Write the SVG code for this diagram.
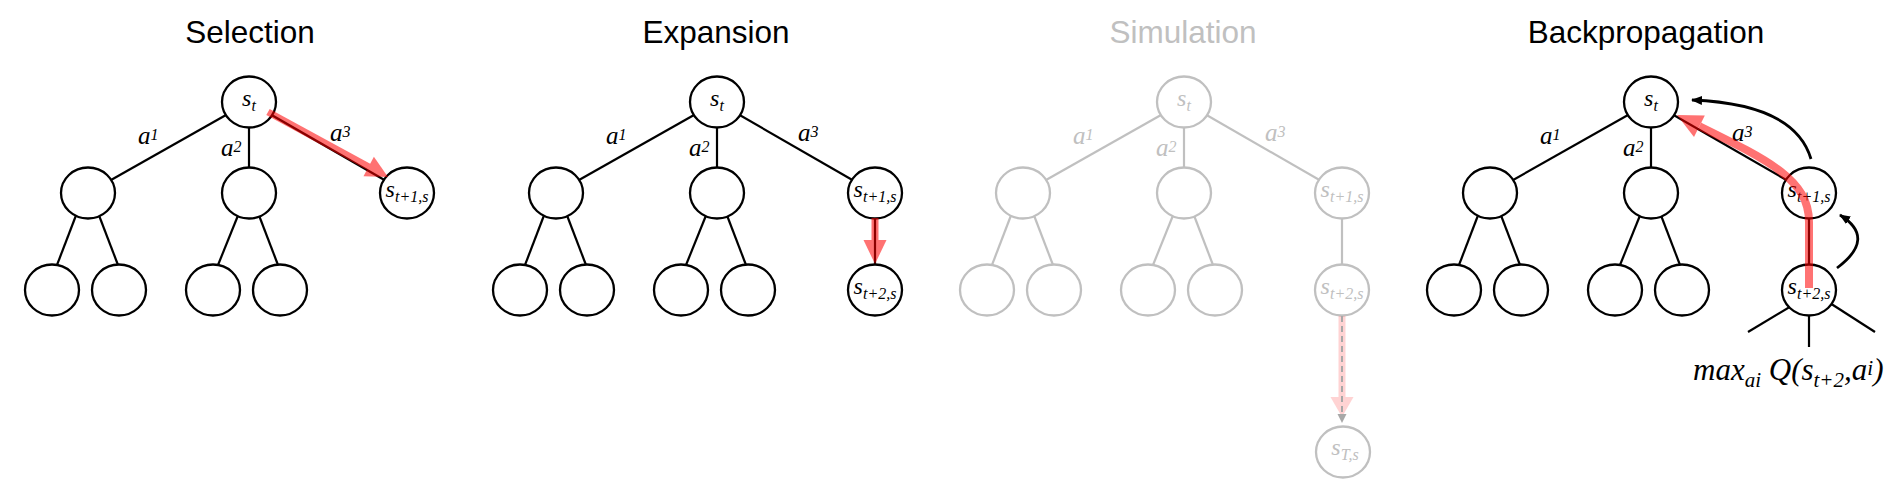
<svg xmlns="http://www.w3.org/2000/svg" width="1890" height="503" viewBox="0 0 1890 503">
<style>
  .title{font-family:"Liberation Sans",Arial,sans-serif;font-size:31.5px;text-anchor:middle;fill:#000}
  .node ellipse{fill:#fff;stroke:#000;stroke-width:2.3}
  .edges line{stroke:#000;stroke-width:2.2;fill:none}
  .it{font-family:"Liberation Serif","Times New Roman",serif;font-style:italic;fill:#000}
  .lbl{font-size:25px}
  .nt{font-size:24px;text-anchor:middle}
  .sub{font-size:16px}
  .sup{font-size:16px}
  .sim .title{fill:#c0c0c0}
  .sim .node ellipse{stroke:#c0c0c0}
  .sim .edges line{stroke:#c0c0c0}
  .sim .it{fill:#c0c0c0}
  .red{fill:#ff0000;stroke:#ff0000;opacity:0.55}
  .arc{fill:none;stroke:#000;stroke-width:2.8}
</style>
<defs>
  <marker id="ah" markerUnits="userSpaceOnUse" markerWidth="12" markerHeight="10" refX="10" refY="4.5" orient="auto">
    <path d="M0,0 L11,4.5 L0,9 z" fill="#000"/>
  </marker>
</defs>

<!-- ============ SELECTION ============ -->
<g id="selection">
  <text class="title" x="250" y="43">Selection</text>
  <g transform="translate(249,0)">
    <g id="sel-edges" class="edges">
      <line x1="0" y1="102" x2="-161" y2="193"/>
      <line x1="0" y1="102" x2="0" y2="193"/>
      <line x1="0" y1="102" x2="158" y2="193"/>
      <line x1="-171.7" y1="212" x2="-194.3" y2="271"/>
      <line x1="-151.3" y1="212" x2="-128.7" y2="271"/>
      <line x1="-9.6" y1="212" x2="-33.4" y2="271"/>
      <line x1="8.7" y1="212" x2="31.3" y2="271"/>
    </g>
    <text class="it lbl" x="-111" y="144">a<tspan class="sup" dy="-4">1</tspan></text>
    <text class="it lbl" x="-28" y="156">a<tspan class="sup" dy="-4">2</tspan></text>
    <text class="it lbl" x="81" y="141">a<tspan class="sup" dy="-4">3</tspan></text>
    <g id="sel-root" class="node"><ellipse cx="0" cy="102" rx="27" ry="25.5"/><text class="it nt" x="0" y="105.5">s<tspan class="sub" dy="5">t</tspan></text></g>
    <g id="sel-c1" class="node"><ellipse cx="-161" cy="193" rx="27" ry="25.5"/></g>
    <g id="sel-c2" class="node"><ellipse cx="0" cy="193" rx="27" ry="25.5"/></g>
    <g id="sel-c3" class="node"><ellipse cx="158" cy="193" rx="27" ry="25.5"/><text class="it nt" x="158" y="197">s<tspan class="sub" dy="5">t+1,s</tspan></text></g>
    <g id="sel-l1" class="node"><ellipse cx="-197" cy="290" rx="27" ry="25.5"/></g>
    <g id="sel-l2" class="node"><ellipse cx="-130" cy="290" rx="27" ry="25.5"/></g>
    <g id="sel-l3" class="node"><ellipse cx="-36" cy="290" rx="27" ry="25.5"/></g>
    <g id="sel-l4" class="node"><ellipse cx="31" cy="290" rx="27" ry="25.5"/></g>
    <g id="sel-arrow" class="red">
      <line x1="19" y1="112" x2="120" y2="167" stroke-width="7"/>
      <polygon points="139,177 114.5,176.2 124.9,156.8" stroke="none"/>
    </g>
  </g>
</g>

<!-- ============ EXPANSION ============ -->
<g id="expansion">
  <text class="title" x="716" y="43">Expansion</text>
  <g transform="translate(717,0)">
    <g id="exp-edges" class="edges">
      <line x1="0" y1="102" x2="-161" y2="193"/>
      <line x1="0" y1="102" x2="0" y2="193"/>
      <line x1="0" y1="102" x2="158" y2="193"/>
      <line x1="-171.7" y1="212" x2="-194.3" y2="271"/>
      <line x1="-151.3" y1="212" x2="-128.7" y2="271"/>
      <line x1="-9.6" y1="212" x2="-33.4" y2="271"/>
      <line x1="8.7" y1="212" x2="31.3" y2="271"/>
      <line x1="158" y1="193" x2="158" y2="290"/>
    </g>
    <text class="it lbl" x="-111" y="144">a<tspan class="sup" dy="-4">1</tspan></text>
    <text class="it lbl" x="-28" y="156">a<tspan class="sup" dy="-4">2</tspan></text>
    <text class="it lbl" x="81" y="141">a<tspan class="sup" dy="-4">3</tspan></text>
    <g id="exp-root" class="node"><ellipse cx="0" cy="102" rx="27" ry="25.5"/><text class="it nt" x="0" y="105.5">s<tspan class="sub" dy="5">t</tspan></text></g>
    <g id="exp-c1" class="node"><ellipse cx="-161" cy="193" rx="27" ry="25.5"/></g>
    <g id="exp-c2" class="node"><ellipse cx="0" cy="193" rx="27" ry="25.5"/></g>
    <g id="exp-c3" class="node"><ellipse cx="158" cy="193" rx="27" ry="25.5"/><text class="it nt" x="158" y="197">s<tspan class="sub" dy="5">t+1,s</tspan></text></g>
    <g id="exp-l1" class="node"><ellipse cx="-197" cy="290" rx="27" ry="25.5"/></g>
    <g id="exp-l2" class="node"><ellipse cx="-130" cy="290" rx="27" ry="25.5"/></g>
    <g id="exp-l3" class="node"><ellipse cx="-36" cy="290" rx="27" ry="25.5"/></g>
    <g id="exp-l4" class="node"><ellipse cx="31" cy="290" rx="27" ry="25.5"/></g>
    <g id="exp-c3c" class="node"><ellipse cx="158" cy="290" rx="27" ry="25.5"/><text class="it nt" x="158" y="294">s<tspan class="sub" dy="5">t+2,s</tspan></text></g>
    <g id="exp-arrow" class="red">
      <path d="M158,218 L158,241" stroke-width="7"/>
      <polygon points="146.5,240 169.5,240 158,264" stroke="none"/>
    </g>
  </g>
</g>

<!-- ============ SIMULATION ============ -->
<g id="simulation" class="sim">
  <text class="title" x="1183" y="43">Simulation</text>
  <g transform="translate(1184,0)">
    <g id="sim-edges" class="edges">
      <line x1="0" y1="102" x2="-161" y2="193"/>
      <line x1="0" y1="102" x2="0" y2="193"/>
      <line x1="0" y1="102" x2="158" y2="193"/>
      <line x1="-171.7" y1="212" x2="-194.3" y2="271"/>
      <line x1="-151.3" y1="212" x2="-128.7" y2="271"/>
      <line x1="-9.6" y1="212" x2="-33.4" y2="271"/>
      <line x1="8.7" y1="212" x2="31.3" y2="271"/>
      <line x1="158" y1="193" x2="158" y2="290"/>
    </g>
    <text class="it lbl" x="-111" y="144">a<tspan class="sup" dy="-4">1</tspan></text>
    <text class="it lbl" x="-28" y="156">a<tspan class="sup" dy="-4">2</tspan></text>
    <text class="it lbl" x="81" y="141">a<tspan class="sup" dy="-4">3</tspan></text>
    <g id="sim-root" class="node"><ellipse cx="0" cy="102" rx="27" ry="25.5"/><text class="it nt" x="0" y="105.5">s<tspan class="sub" dy="5">t</tspan></text></g>
    <g id="sim-c1" class="node"><ellipse cx="-161" cy="193" rx="27" ry="25.5"/></g>
    <g id="sim-c2" class="node"><ellipse cx="0" cy="193" rx="27" ry="25.5"/></g>
    <g id="sim-c3" class="node"><ellipse cx="158" cy="193" rx="27" ry="25.5"/><text class="it nt" x="158" y="197">s<tspan class="sub" dy="5">t+1,s</tspan></text></g>
    <g id="sim-l1" class="node"><ellipse cx="-197" cy="290" rx="27" ry="25.5"/></g>
    <g id="sim-l2" class="node"><ellipse cx="-130" cy="290" rx="27" ry="25.5"/></g>
    <g id="sim-l3" class="node"><ellipse cx="-36" cy="290" rx="27" ry="25.5"/></g>
    <g id="sim-l4" class="node"><ellipse cx="31" cy="290" rx="27" ry="25.5"/></g>
    <g id="sim-c3c" class="node"><ellipse cx="158" cy="290" rx="27" ry="25.5"/><text class="it nt" x="158" y="294">s<tspan class="sub" dy="5">t+2,s</tspan></text></g>
    <g id="sim-sT" class="node"><ellipse cx="159" cy="452" rx="27" ry="25.5"/><text class="it nt" x="161" y="455">s<tspan class="sub" dy="5">T,s</tspan></text></g>
    <g id="sim-arrow">
      <g fill="#ff0000" stroke="#ff0000" opacity="0.17">
        <path d="M158,316 L158,398" stroke-width="7"/>
        <polygon points="146.5,397 169.5,397 158,417" stroke="none"/>
      </g>
      <path d="M158,316 L158,415" stroke="#a8a8a8" stroke-width="2" stroke-dasharray="6 4" fill="none"/>
      <polygon points="153.5,414 162.5,414 158,423" fill="#a8a8a8"/>
    </g>
  </g>
</g>

<!-- ============ BACKPROPAGATION ============ -->
<g id="backpropagation">
  <text class="title" x="1646" y="43">Backpropagation</text>
  <g transform="translate(1651,0)">
    <g id="bp-edges" class="edges">
      <line x1="0" y1="102" x2="-161" y2="193"/>
      <line x1="0" y1="102" x2="0" y2="193"/>
      <line x1="0" y1="102" x2="158" y2="193"/>
      <line x1="-171.7" y1="212" x2="-194.3" y2="271"/>
      <line x1="-151.3" y1="212" x2="-128.7" y2="271"/>
      <line x1="-9.6" y1="212" x2="-33.4" y2="271"/>
      <line x1="8.7" y1="212" x2="31.3" y2="271"/>
      <line x1="158" y1="193" x2="158" y2="290"/>
      <line x1="150.3" y1="300" x2="97" y2="332"/>
      <line x1="158" y1="300" x2="158" y2="347"/>
      <line x1="174.2" y1="300" x2="224" y2="332"/>
    </g>
    <text class="it lbl" x="-111" y="144">a<tspan class="sup" dy="-4">1</tspan></text>
    <text class="it lbl" x="-28" y="156">a<tspan class="sup" dy="-4">2</tspan></text>
    <text class="it lbl" x="81" y="141">a<tspan class="sup" dy="-4">3</tspan></text>
    <g id="bp-root" class="node"><ellipse cx="0" cy="102" rx="27" ry="25.5"/><text class="it nt" x="0" y="105.5">s<tspan class="sub" dy="5">t</tspan></text></g>
    <g id="bp-c1" class="node"><ellipse cx="-161" cy="193" rx="27" ry="25.5"/></g>
    <g id="bp-c2" class="node"><ellipse cx="0" cy="193" rx="27" ry="25.5"/></g>
    <g id="bp-c3" class="node"><ellipse cx="158" cy="193" rx="27" ry="25.5"/><text class="it nt" x="158" y="197">s<tspan class="sub" dy="5">t+1,s</tspan></text></g>
    <g id="bp-l1" class="node"><ellipse cx="-197" cy="290" rx="27" ry="25.5"/></g>
    <g id="bp-l2" class="node"><ellipse cx="-130" cy="290" rx="27" ry="25.5"/></g>
    <g id="bp-l3" class="node"><ellipse cx="-36" cy="290" rx="27" ry="25.5"/></g>
    <g id="bp-l4" class="node"><ellipse cx="31" cy="290" rx="27" ry="25.5"/></g>
    <g id="bp-c3c" class="node"><ellipse cx="158" cy="290" rx="27" ry="25.5"/><text class="it nt" x="158" y="294">s<tspan class="sub" dy="5">t+2,s</tspan></text></g>
    <g id="bp-arrows">
      <g class="red">
        <path d="M158,288 L158,222 C158,180 119,161 48.4,126.2" fill="none" stroke-width="8"/>
        <polygon points="26,115 53.8,115.5 43,136.9" stroke="none"/>
      </g>
      <path class="arc" d="M160,159 Q144,104 41,100" marker-end="url(#ah)"/>
      <path class="arc" d="M186,268 Q226,238 189,215" marker-end="url(#ah)"/>
    </g>
    <text id="bp-formula" class="it" x="42" y="380" font-size="31">max<tspan font-size="21" dy="7">ai</tspan><tspan dy="-7"> Q(s</tspan><tspan font-size="21" dy="7">t+2</tspan><tspan dy="-7">,a</tspan><tspan font-size="21" dy="-5">i</tspan><tspan dy="5">)</tspan></text>
  </g>
</g>
</svg>
